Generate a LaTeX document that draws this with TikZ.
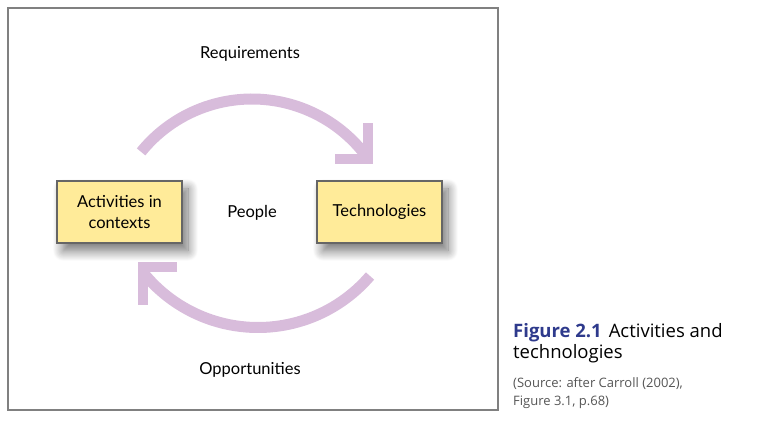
\documentclass[tikz,border=0pt]{standalone}
\usepackage{fontspec}
\setmainfont{Lato}
\newfontfamily\capfont{Open Sans}
\usetikzlibrary{shadows.blur}
\definecolor{arcc}{HTML}{D8BCDB}
\definecolor{boxfill}{HTML}{FFEB99}
\definecolor{boxline}{HTML}{666666}
\definecolor{framec}{HTML}{808080}
\definecolor{figblue}{HTML}{2E3A8C}
\definecolor{srcgray}{HTML}{555555}
\tikzset{
  conceptbox/.style={draw=boxline, line width=1.2pt, fill=boxfill, minimum width=125pt, minimum height=62pt, inner sep=0pt, align=center, font=\fontsize{16.5}{21}\selectfont,
    blur shadow={shadow xshift=6pt, shadow yshift=-8pt, shadow blur steps=14, shadow blur radius=10pt, shadow opacity=55}},
  lbl/.style={font=\fontsize{16.5}{20}\selectfont, inner sep=0pt},
  arcline/.style={draw=arcc, line width=11pt},
  headline/.style={draw=arcc, line width=10pt, miter limit=10}
}
\begin{document}
\begin{tikzpicture}[x=1pt,y=1pt]
\useasboundingbox (0,0) rectangle (766,430);
\draw[framec, line width=1.6pt] (8,20) rectangle (498,422);
% arcs
\draw[arcline] (141.1,278.1) arc[start angle=141, end angle=36.5, radius=142.7];
\draw[headline] (335,271) -- (368,271) -- (368,307);
\draw[arcline] (370.0,154.0) arc[start angle=-40.6, end angle=-141, radius=147.5];
\draw[headline] (177,163) -- (143,163) -- (143,125);
% boxes
\node[conceptbox] (act) at (119.5,218) {Activities in\\contexts};
\node[conceptbox] (tech) at (379.5,218) {Technologies};
% labels
\node[lbl] (req) at (250,376) {Requirements};
\node[lbl] (ppl) at (252,217) {People};
\node[lbl] (opp) at (250,60) {Opportunities};
% caption
\node[anchor=base west, inner sep=0pt, font=\capfont\fontsize{18.5}{22}\selectfont] (cap1) at (513,92) {\textcolor{figblue}{\bfseries Figure 2.1}\hspace{7pt}Activities and};
\node[anchor=base west, inner sep=0pt, font=\capfont\fontsize{18.5}{22}\selectfont] (cap2) at (513,71) {technologies};
\node[anchor=base west, inner sep=0pt, font=\capfont\fontsize{13}{15}\selectfont, text=srcgray] (src1) at (513,42) {(Source: after Carroll (2002),};
\node[anchor=base west, inner sep=0pt, font=\capfont\fontsize{13}{15}\selectfont, text=srcgray] (src2) at (513,24) {Figure 3.1, p.68)};
\end{tikzpicture}
\end{document}
